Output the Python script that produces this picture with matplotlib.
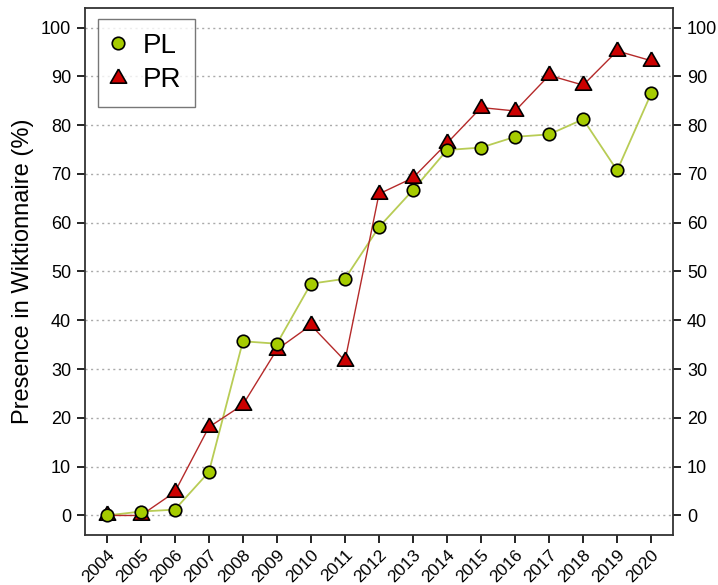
import matplotlib
matplotlib.use("Agg")
import matplotlib.pyplot as plt

plt.rcParams["font.family"] = ["Liberation Sans", "DejaVu Sans"]

years = list(range(2004, 2021))
pl = [0.0, 0.8, 1.2, 8.9, 35.7, 35.2, 47.5, 48.5, 59.1, 66.7, 74.9, 75.4, 77.6, 78.1, 81.2, 70.7, 86.5]
pr = [0.0, 0.0, 4.8, 18.1, 22.7, 34.0, 39.0, 31.7, 65.9, 69.2, 76.3, 83.6, 82.9, 90.2, 88.2, 95.2, 93.2]
yticks = list(range(0, 101, 10))

# equilateral triangle (centroid at origin), like R's pch=24
tri = [(0, 1.155), (-1, -0.577), (1, -0.577), (0, 1.155)]

fig = plt.figure(figsize=(7.18, 5.85), dpi=100)
ax = fig.add_axes([0.1184, 0.0855, 0.8189, 0.9008])

for t in yticks:
    ax.axhline(t, color="#aaaaaa", lw=1.0, ls=(0, (1.5, 2.5)), zorder=0)

ax.plot(years, pl, color="#b8cc55", lw=1.3, zorder=2)
ax.plot(years, pr, color="#b52a2a", lw=1.0, zorder=2)
ax.plot(years, pr, ls="none", marker=tri, ms=13.5, mfc="#cc0000", mec="black",
        mew=1.2, label="PR", zorder=3)
ax.plot(years, pl, ls="none", marker="o", ms=9, mfc="#a6cc00", mec="black",
        mew=1.2, label="PL", zorder=4)

ax.set_xlim(2003.36, 2020.64)
ax.set_ylim(-4, 104)
ax.set_xticks(years)
ax.set_xticklabels([str(y) for y in years], rotation=45, ha="right", va="top",
                   rotation_mode="anchor", fontsize=12.5)
ax.set_yticks(yticks)
ax.tick_params(axis="y", labelsize=13, length=6, width=1.2, right=True,
               labelright=True, direction="out", pad=4)
ax.tick_params(axis="x", length=6, width=1.2, direction="out", pad=3)
for s in ax.spines.values():
    s.set_color("#333333")
    s.set_linewidth(1.3)
ax.set_ylabel("Presence in Wiktionnaire (%)", fontsize=17, labelpad=5)

h, l = ax.get_legend_handles_labels()
leg = ax.legend(h[::-1], l[::-1], loc="upper left", bbox_to_anchor=(0.022, 0.979),
                borderaxespad=0, fontsize=20, frameon=True, fancybox=False,
                edgecolor="#555555", borderpad=0.5, handletextpad=0.65,
                handlelength=0.45, labelspacing=0.3)
leg.get_frame().set_linewidth(1.0)

fig.savefig("out.png", dpi=100)
